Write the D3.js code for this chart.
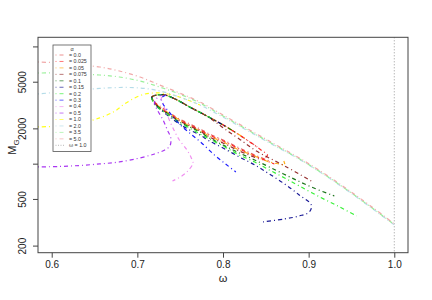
<!DOCTYPE html>
<html><head><meta charset="utf-8">
<script src="https://cdn.jsdelivr.net/npm/d3@7"></script>
<style>body{margin:0;background:#fff} text{font-family:"Liberation Sans",Arial,Helvetica,sans-serif}</style>
</head><body><svg id="c" width="432" height="300"></svg>
<script>
// ---- data ----
const alphaLabels = ["= 0.0","= 0.025","= 0.05","= 0.075","= 0.1","= 0.15","= 0.2","= 0.3","= 0.4","= 0.5","= 1.0","= 2.0","= 3.5","= 5.0"];
const seriesColors = ["#E04848","#FF1A1A","#FFA500","#8B1A1A","#006400","#00008B","#22EE22","#0000FF","#EE82EE","#A020F0","#FFFF00","#ADD8E6","#90EE90","#F0A0A0"];
const xTicks = [0.6,0.7,0.8,0.9,1.0];
const yTicks = [200,500,1000,2000,5000,10000];
const yTickLabels = [200,500,2000,5000];
const omegaRef = 1.0;

const s_0_0 = [[0.840,1390],[0.819,1757],[0.802,2100],[0.779,2600],[0.761,3045],[0.744,3565],[0.732,3855],[0.723,3855],[0.717,3705],[0.720,3360],[0.726,3105],[0.738,2705],[0.749,2405],[0.761,2180],[0.773,1976],[0.784,1792],[0.800,1593],[0.819,1361],[0.837,1186],[0.854,1055]];
const s_0_025 = [[0.846,1075],[0.852,1186],[0.846,1283],[0.833,1502],[0.819,1757],[0.802,2100],[0.779,2600],[0.761,3045],[0.744,3565],[0.732,3855],[0.723,3855],[0.717,3705],[0.720,3360],[0.726,3045],[0.738,2653],[0.749,2360],[0.761,2138],[0.773,1939],[0.784,1757],[0.800,1562],[0.819,1335],[0.837,1163],[0.860,994]];
const s_0_05 = [[0.825,1657],[0.802,2100],[0.779,2600],[0.761,3045],[0.744,3565],[0.732,3855],[0.723,3855],[0.717,3705],[0.720,3293],[0.726,3045],[0.738,2653],[0.749,2360],[0.761,2097],[0.773,1900],[0.784,1723],[0.800,1531],[0.819,1309],[0.837,1163],[0.854,1034],[0.866,994],[0.872,975],[0.871,1055]];
const s_0_075 = [[0.903,712],[0.872,956],[0.839,1283],[0.819,1624],[0.802,1976],[0.790,2300],[0.779,2600],[0.761,3045],[0.744,3565],[0.732,3855],[0.723,3855],[0.717,3705],[0.720,3293],[0.726,2985],[0.738,2600],[0.749,2313],[0.761,2097],[0.773,1900],[0.784,1690],[0.800,1502],[0.819,1283],[0.845,1075]];
const s_0_1 = [[0.814,1865],[0.802,2100],[0.779,2600],[0.761,3045],[0.744,3565],[0.732,3855],[0.723,3855],[0.717,3705],[0.720,3293],[0.726,2985],[0.738,2600],[0.749,2268],[0.761,2056],[0.773,1865],[0.784,1657],[0.800,1444],[0.819,1234],[0.837,1075],[0.854,937],[0.878,770],[0.903,633],[0.930,530]];
const s_0_15 = [[0.802,2100],[0.779,2600],[0.761,3045],[0.744,3565],[0.732,3855],[0.723,3855],[0.717,3705],[0.720,3228],[0.726,2927],[0.738,2500],[0.749,2180],[0.761,1939],[0.773,1757],[0.784,1562],[0.800,1361],[0.819,1141],[0.837,975],[0.854,817],[0.872,671],[0.889,541],[0.903,445],[0.901,388],[0.889,358],[0.872,338],[0.846,318]];
const s_0_2 = [[0.790,2360],[0.779,2600],[0.761,3045],[0.744,3565],[0.732,3855],[0.723,3855],[0.717,3705],[0.720,3228],[0.726,2927],[0.738,2550],[0.749,2225],[0.761,2016],[0.773,1792],[0.784,1624],[0.800,1416],[0.819,1186],[0.837,1034],[0.854,884],[0.872,755],[0.889,646],[0.913,520],[0.936,428],[0.956,358]];
const s_0_3 = [[0.738,3930],[0.728,3635],[0.730,3228],[0.738,2705],[0.749,2180],[0.761,1828],[0.775,1502],[0.790,1186],[0.803,994],[0.815,850]];
const s_0_4 = [[0.733,3855],[0.728,3635],[0.730,3228],[0.734,2705],[0.741,2056],[0.749,1593],[0.758,1309],[0.763,1119],[0.765,1014],[0.760,884],[0.752,786],[0.741,712]];
const s_0_5 = [[0.584,937],[0.609,946],[0.633,965],[0.656,994],[0.679,1034],[0.703,1119],[0.720,1210],[0.732,1309],[0.738,1416],[0.739,1657],[0.735,1939],[0.730,2360],[0.724,2814],[0.720,3293],[0.723,3635],[0.728,3855]];
const s_1_0 = [[0.584,2056],[0.609,2097],[0.633,2225],[0.656,2455],[0.674,2814],[0.685,3228],[0.697,3635],[0.709,3930],[0.720,4010],[0.732,3970],[0.749,3705],[0.773,3166]];
const s_2_0 = [[0.584,3930],[0.609,4085],[0.633,4250],[0.656,4378],[0.679,4462],[0.703,4420],[0.726,4170],[0.749,3705],[0.773,3166],[0.802,2450],[0.831,1870],[0.860,1425],[0.889,1090],[0.919,795],[0.948,570],[0.977,400],[1.0,300]];
const s_3_5 = [[0.584,5930],[0.609,5930],[0.633,5820],[0.656,5705],[0.679,5485],[0.703,5070],[0.726,4505],[0.749,3930],[0.773,3293],[0.802,2500],[0.831,1900],[0.860,1445],[0.889,1100],[0.919,802],[0.948,575],[0.977,404],[1.0,302]];
const s_5_0 = [[0.584,7365],[0.609,7220],[0.633,6940],[0.656,6675],[0.679,6170],[0.703,5485],[0.726,4690],[0.749,4010],[0.773,3358],[0.802,2550],[0.831,1939],[0.860,1472],[0.889,1119],[0.919,817],[0.948,585],[0.977,411],[1.0,306]];
const allSeries = [s_0_0,s_0_025,s_0_05,s_0_075,s_0_1,s_0_15,s_0_2,s_0_3,s_0_4,s_0_5,s_1_0,s_2_0,s_3_5,s_5_0];

// ---- chart ----
const svg = d3.select("#c");
const L=38, R=408, T=37.3, B=252.7;
const x = d3.scaleLinear().domain([0.584,1.016]).range([L,R]);
const y = d3.scaleLog().domain([174,11960]).range([B,T]);

svg.append("defs").append("clipPath").attr("id","clip").append("rect")
  .attr("x",L).attr("y",T).attr("width",R-L).attr("height",B-T);

const plot = svg.append("g").attr("clip-path","url(#clip)");
const line = d3.line().x(d=>x(d[0])).y(d=>y(d[1])).curve(d3.curveCatmullRom.alpha(0.5));
const DASH = "1,3,4,3";

allSeries.forEach((s,i)=>{
  plot.append("path").datum(s).attr("d",line).attr("fill","none")
    .attr("stroke",seriesColors[i]).attr("stroke-width",1.2).attr("stroke-opacity",0.9)
    .attr("stroke-dasharray",DASH);
});
// reference omega = 1.0
plot.append("line").attr("x1",x(omegaRef)).attr("x2",x(omegaRef)).attr("y1",T).attr("y2",B)
  .attr("stroke","#999").attr("stroke-width",1).attr("stroke-dasharray","1,2");

// box
svg.append("rect").attr("x",L).attr("y",T).attr("width",R-L).attr("height",B-T)
  .attr("fill","none").attr("stroke","#444").attr("stroke-width",1);

// x axis
const xa = svg.append("g").attr("transform",`translate(0,${B})`)
  .call(d3.axisBottom(x).tickValues(xTicks).tickFormat(d3.format(".1f")).tickSize(5).tickPadding(3.5).tickSizeOuter(0));
xa.select(".domain").remove();
xa.selectAll("line").attr("stroke","#444");
xa.selectAll("text").attr("font-size",10).attr("fill","#222").attr("font-family","Liberation Sans, Arial, sans-serif");

// y axis
const ya = svg.append("g").attr("transform",`translate(${L},0)`)
  .call(d3.axisLeft(y).tickValues(yTicks).tickFormat(d=>yTickLabels.includes(d)?String(d):"").tickSize(5).tickSizeOuter(0));
ya.select(".domain").remove();
ya.selectAll("line").attr("stroke","#444");
ya.selectAll("text").attr("font-size",10).attr("fill","#222").attr("font-family","Liberation Sans, Arial, sans-serif")
  .attr("transform","rotate(-90)").attr("x",0).attr("y",-12.5).attr("dy",0).attr("text-anchor","middle");

// axis titles
svg.append("text").attr("x",(L+R)/2).attr("y",282).attr("text-anchor","middle")
  .attr("font-size",11).attr("fill","#222").text("ω");
const yt = svg.append("text").attr("transform","translate(16,147) rotate(-90)").attr("text-anchor","middle")
  .attr("font-size",11).attr("fill","#222");
yt.append("tspan").text("M");
yt.append("tspan").attr("font-size",8).attr("dy",3).text("G");

// legend
const lg = svg.append("g");
lg.append("rect").attr("x",53).attr("y",45).attr("width",38).attr("height",106.5)
  .attr("fill","#fff").attr("stroke","#555").attr("stroke-width",0.8);
lg.append("text").attr("x",72).attr("y",50.5).attr("text-anchor","middle").attr("font-size",5.5).attr("fill","#333").text("α");
const legItems = alphaLabels.map((t,i)=>({t, c:seriesColors[i], dash:DASH}));
legItems.push({t:"ω = 1.0", c:"#888", dash:"1,1.5"});
legItems.forEach((it,i)=>{
  const yy = 55 + i*6.45;
  lg.append("line").attr("x1",55.5).attr("x2",65.5).attr("y1",yy).attr("y2",yy)
    .attr("stroke",it.c).attr("stroke-opacity",0.6).attr("stroke-width",1).attr("stroke-dasharray",it.dash);
  lg.append("text").attr("x",69).attr("y",yy).attr("dy","0.35em").attr("font-size",5.3).attr("fill","#333").text(it.t);
});
</script></body></html>
